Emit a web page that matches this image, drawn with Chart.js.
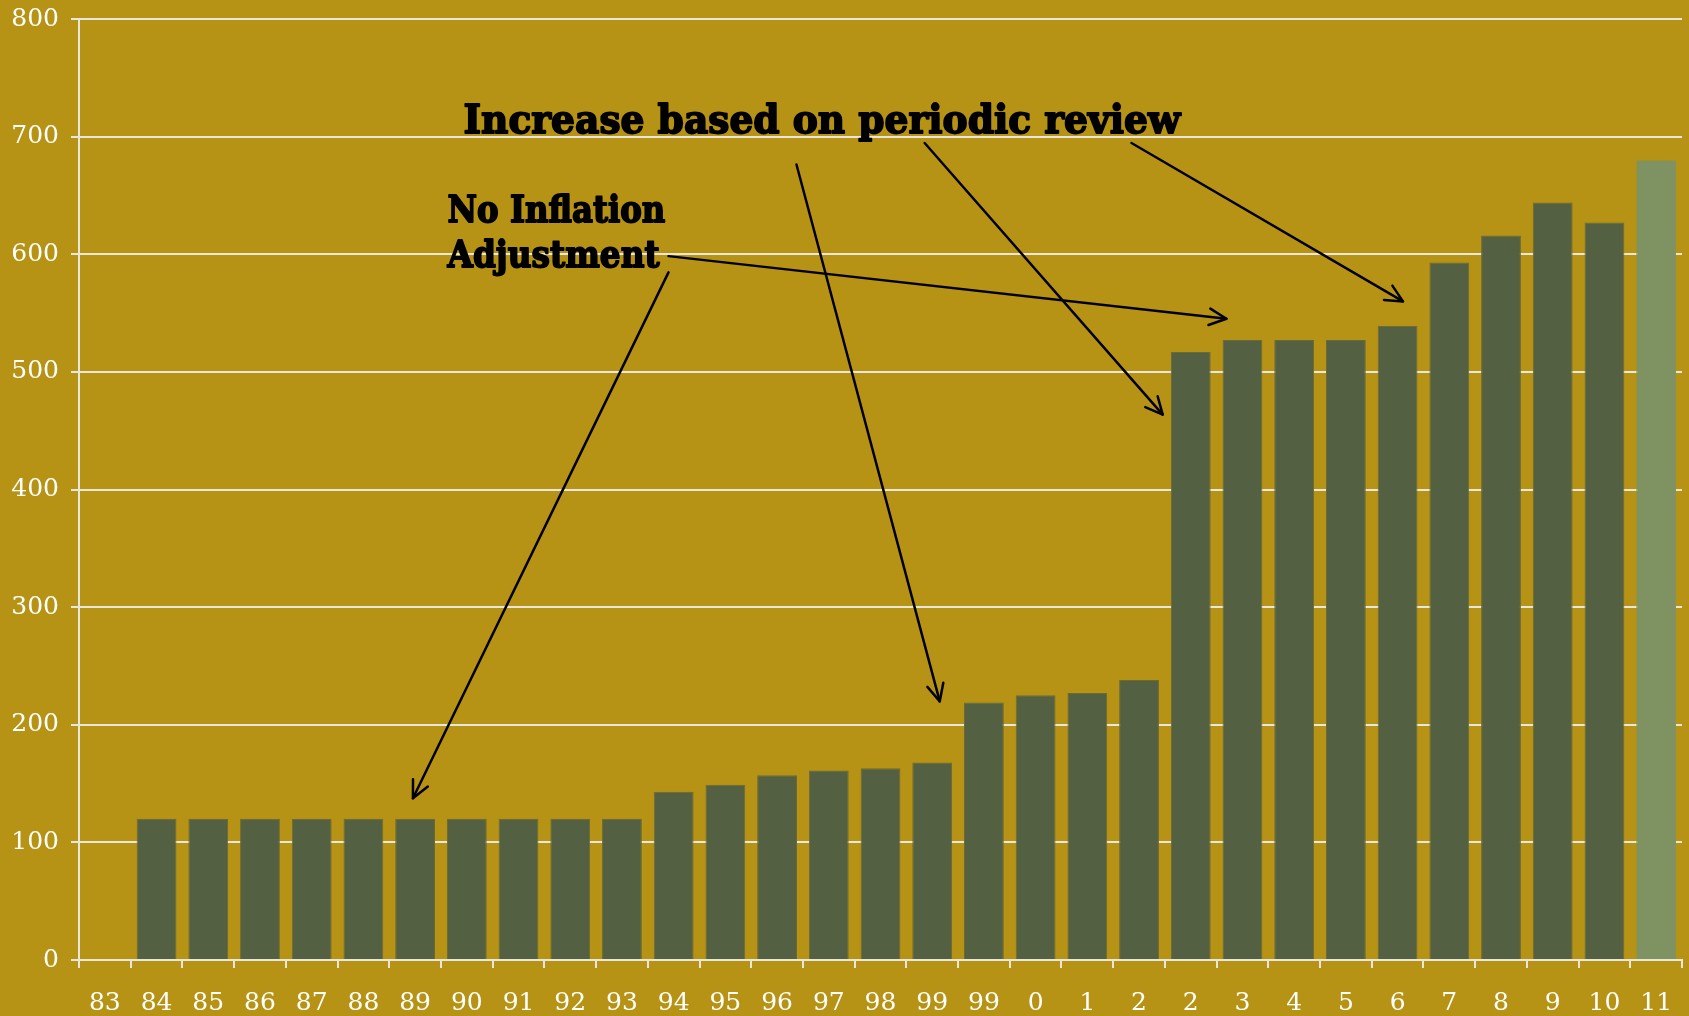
<!DOCTYPE html>
<html>
<head>
<meta charset="utf-8">
<script src="https://cdn.jsdelivr.net/npm/chart.js@4.4.1/dist/chart.umd.min.js"></script>
<style>
html,body{margin:0;padding:0;background:#b79315;}
canvas{display:block;}
</style>
</head>
<body>
<canvas id="c" width="1689" height="1016"></canvas>
<script>
// ---- data ----
const categories = ['83','84','85','86','87','88','89','90','91','92','93','94','95','96','97','98','99','99','0','1','2','2','3','4','5','6','7','8','9','10','11'];
const values = [null,120,120,120,120,120,120,120,120,120,120,143,149,157,161,163,168,219,225,227,238,517,527,527,527,539,593,616,644,627,680];
const yTicks = [0,100,200,300,400,500,600,700,800];

// annotations in data space: [categoryIndex, value]
const annotationTexts = [
  {text:'Increase based on periodic review', left:6.935, right:20.80, base:703.4, size:40},
  {text:'No Inflation', left:6.626, right:10.84, base:627.3, size:37},
  {text:'Adjustment', left:6.626, right:10.73, base:589.0, size:37}
];
const arrows = [
  {from:[10.90,584.6], to:[5.958,137.5]},
  {from:[10.90,598.4], to:[21.69,545.2]},
  {from:[13.375,676.3], to:[16.146,219.9]},
  {from:[15.854,694.6], to:[20.458,463.7]},
  {from:[19.854,694.6], to:[25.104,559.9]}
];

const darkBar = '#536041';
const lightBar = '#7e9361';
const barColors = values.map((v,i)=> i === values.length-1 ? lightBar : darkBar);
const barBorders = values.map((v,i)=> i === values.length-1 ? '#7e9361' : '#6a6a36');

const annotationPlugin = {
  id:'annot',
  afterDatasetsDraw(chart){
    const ctx = chart.ctx, xs = chart.scales.x, ys = chart.scales.y;
    ctx.save();
    ctx.fillStyle = '#000';
    ctx.strokeStyle = '#000';
    ctx.lineJoin = 'round';
    ctx.textBaseline = 'alphabetic';
    annotationTexts.forEach(a=>{
      const x0 = xs.getPixelForValue(a.left), x1 = xs.getPixelForValue(a.right);
      const y = ys.getPixelForValue(a.base);
      ctx.font = 'bold ' + a.size + 'px "DejaVu Serif"';
      const w = ctx.measureText(a.text).width;
      const sx = (x1-x0)/w;
      ctx.save();
      ctx.translate(x0,y);
      ctx.scale(sx,1);
      ctx.lineWidth = 1.8;
      ctx.fillText(a.text,0,0);
      ctx.strokeText(a.text,0,0);
      ctx.restore();
    });
    ctx.lineWidth = 2.5;
    ctx.lineCap = 'round';
    arrows.forEach(a=>{
      const x0 = xs.getPixelForValue(a.from[0]), y0 = ys.getPixelForValue(a.from[1]);
      const x1 = xs.getPixelForValue(a.to[0]), y1 = ys.getPixelForValue(a.to[1]);
      ctx.beginPath();
      ctx.moveTo(x0,y0); ctx.lineTo(x1,y1);
      ctx.stroke();
      const ang = Math.atan2(y1-y0,x1-x0);
      const L = 19, sp = Math.PI/7;
      ctx.beginPath();
      ctx.moveTo(x1 - L*Math.cos(ang-sp), y1 - L*Math.sin(ang-sp));
      ctx.lineTo(x1,y1);
      ctx.lineTo(x1 - L*Math.cos(ang+sp), y1 - L*Math.sin(ang+sp));
      ctx.stroke();
    });
    ctx.restore();
  }
};

const tickFont = {family:'"DejaVu Serif"', size:25};
const lineCol = '#e9e6dc';

new Chart(document.getElementById('c'), {
  type:'bar',
  data:{
    labels:categories,
    datasets:[{
      data:values,
      backgroundColor:barColors,
      borderColor:barBorders,
      borderWidth:1,
      barPercentage:0.77,
      categoryPercentage:1.0
    }]
  },
  options:{
    responsive:false,
    animation:false,
    devicePixelRatio:1,
    layout:{padding:{top:19,right:7,left:0,bottom:0}},
    plugins:{legend:{display:false},tooltip:{enabled:false}},
    scales:{
      x:{
        grid:{drawOnChartArea:false,drawTicks:true,color:lineCol,lineWidth:2,tickLength:8,offset:true},
        border:{color:lineCol,width:2},
        ticks:{color:'#ffffff',font:tickFont,padding:20,maxRotation:0,autoSkip:false},
        afterFit(s){ s.height = 56; s.paddingLeft = 0; s.paddingRight = 0; }
      },
      y:{
        min:0,max:800,
        afterBuildTicks(s){ s.ticks = yTicks.map(v=>({value:v})); },
        grid:{color:lineCol,lineWidth:2,tickLength:8},
        border:{color:lineCol,width:2},
        ticks:{color:'#ffffff',font:tickFont,padding:12},
        afterFit(s){ s.width = 79; s.paddingTop = 0; s.paddingBottom = 0; }
      }
    }
  },
  plugins:[annotationPlugin]
});
</script>
</body>
</html>
